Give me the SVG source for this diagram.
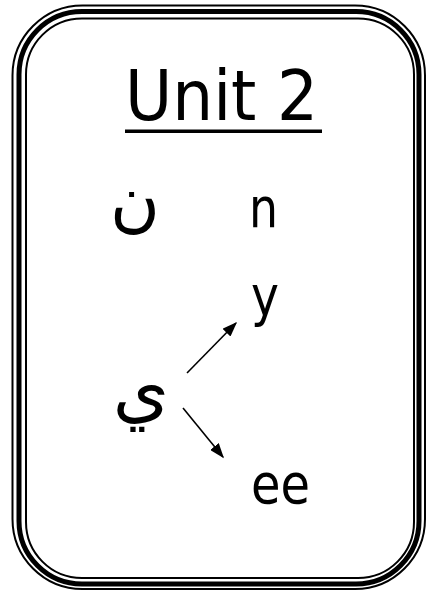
<svg xmlns="http://www.w3.org/2000/svg" width="427" height="597" viewBox="0 0 427 597">
<style>
.frame{fill:none;stroke:#000}
.t{font-family:"DejaVu Sans","Liberation Sans",sans-serif;fill:#000}
.c{stroke:#000;stroke-width:1.6;fill:none}
</style>
<defs>
<marker id="ah" viewBox="0 0 10 10" refX="9" refY="5" markerWidth="15" markerHeight="11" markerUnits="userSpaceOnUse" orient="auto" preserveAspectRatio="none">
<path d="M0,0 L10,5 L0,10 z" fill="#000"/>
</marker>
</defs>
<rect width="427" height="597" fill="#fff"/>
<g id="frame">
<rect class="frame" x="12.5" y="5.5" width="412.5" height="583.5" rx="70" ry="70" stroke-width="2"/>
<rect class="frame" x="19" y="11.5" width="400" height="572.5" rx="63" ry="63" stroke-width="5"/>
<rect class="frame" x="26" y="18.5" width="388" height="559.5" rx="56" ry="56" stroke-width="2"/>
</g>
<g id="title">
<text class="t" x="125" y="120" font-size="70" textLength="193" lengthAdjust="spacingAndGlyphs">Unit 2</text>
<rect x="125" y="129.5" width="197" height="3.5" fill="#000"/>
</g>
<g id="noon"><text class="t" x="135" y="224" font-size="68" text-anchor="middle">ن</text></g>
<g id="n"><text class="t" x="249" y="227" font-size="56" textLength="29" lengthAdjust="spacingAndGlyphs">n</text></g>
<g id="y"><text class="t" x="251" y="315" font-size="56" textLength="28" lengthAdjust="spacingAndGlyphs">y</text></g>
<g id="yaa"><text class="t" x="141" y="414" font-size="72" text-anchor="middle">ي</text></g>
<g id="ee"><text class="t" x="251" y="503" font-size="56" textLength="59" lengthAdjust="spacingAndGlyphs">ee</text></g>
<g id="connectors">
<line class="c" x1="187" y1="373" x2="236" y2="323" marker-end="url(#ah)"/>
<line class="c" x1="183" y1="408" x2="223" y2="457" marker-end="url(#ah)"/>
</g>
</svg>
